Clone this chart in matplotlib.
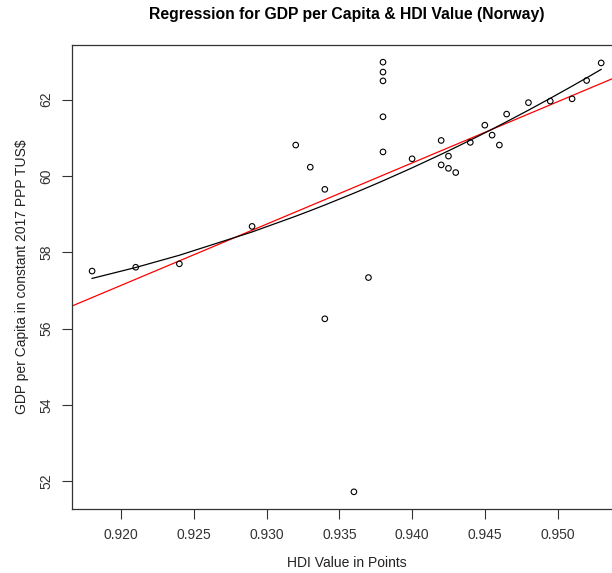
import numpy as np
import matplotlib
matplotlib.use("Agg")
import matplotlib.pyplot as plt

plt.rcParams['font.family'] = ['Liberation Sans', 'DejaVu Sans']

# Norway: HDI value vs GDP per capita (thousand constant 2017 PPP US$)
hdi = [0.918, 0.921, 0.924, 0.929, 0.932, 0.933, 0.934, 0.934, 0.936, 0.937,
       0.938, 0.938, 0.938, 0.938, 0.938, 0.940, 0.942, 0.9425, 0.942, 0.9425,
       0.943, 0.944, 0.945, 0.9455, 0.946, 0.9465, 0.948, 0.9495, 0.951, 0.952,
       0.953]
gdp = [57.51, 57.61, 57.70, 58.68, 60.81, 60.23, 59.65, 56.26, 51.73, 57.34,
       62.98, 62.72, 62.49, 61.55, 60.63, 60.45, 60.93, 60.52, 60.29, 60.20,
       60.09, 60.88, 61.33, 61.07, 60.81, 61.62, 61.92, 61.96, 62.02, 62.50,
       62.96]

x = np.array(hdi)
y = np.array(gdp)

fig = plt.figure(figsize=(6.12, 5.73), dpi=100)
ax = fig.add_axes([0.1172, 0.1117, 0.8984, 0.8098])

ax.scatter(x, y, s=16, facecolors='none', edgecolors='black', linewidths=0.8, zorder=3)

# linear fit, drawn across the full plotting region
lin = np.polyfit(x, y, 1)
xl = np.array([0.9, 0.97])
ax.plot(xl, np.polyval(lin, xl), color='red', lw=0.9, zorder=2)

# quadratic fit, drawn through the observed x values
quad = np.polyfit(x, y, 2)
xs = np.sort(np.unique(x))
ax.plot(xs, np.polyval(quad, xs), color='black', lw=0.9, zorder=2)

span_x = x.max() - x.min()
span_y = y.max() - y.min()
ax.set_xlim(x.min() - 0.04 * span_x, x.max() + 0.04 * span_x)
ax.set_ylim(y.min() - 0.04 * span_y, y.max() + 0.04 * span_y)

ax.set_xticks([0.920, 0.925, 0.930, 0.935, 0.940, 0.945, 0.950])
ax.set_xticklabels(['0.920', '0.925', '0.930', '0.935', '0.940', '0.945', '0.950'])
ax.set_yticks([52, 54, 56, 58, 60, 62])
ax.set_yticklabels(['52', '54', '56', '58', '60', '62'], rotation=90, va='center')

ax.tick_params(direction='out', length=7, width=0.8, labelsize=10, colors='#333333')
ax.tick_params(axis='x', pad=7)
ax.tick_params(axis='y', pad=6)
for side in ['left', 'bottom', 'top', 'right']:
    ax.spines[side].set_linewidth(0.9)
    ax.spines[side].set_color('#333333')

ax.set_xlabel('HDI Value in Points', fontsize=10, labelpad=10, color='#222222')
ax.set_ylabel('GDP per Capita in constant 2017 PPP TUS$', fontsize=10, labelpad=8, color='#222222')
fig.text(0.566, 0.974, 'Regression for GDP per Capita & HDI Value (Norway)',
         ha='center', va='center', fontsize=11.3, fontweight='bold')

fig.savefig('out.png', dpi=100)
